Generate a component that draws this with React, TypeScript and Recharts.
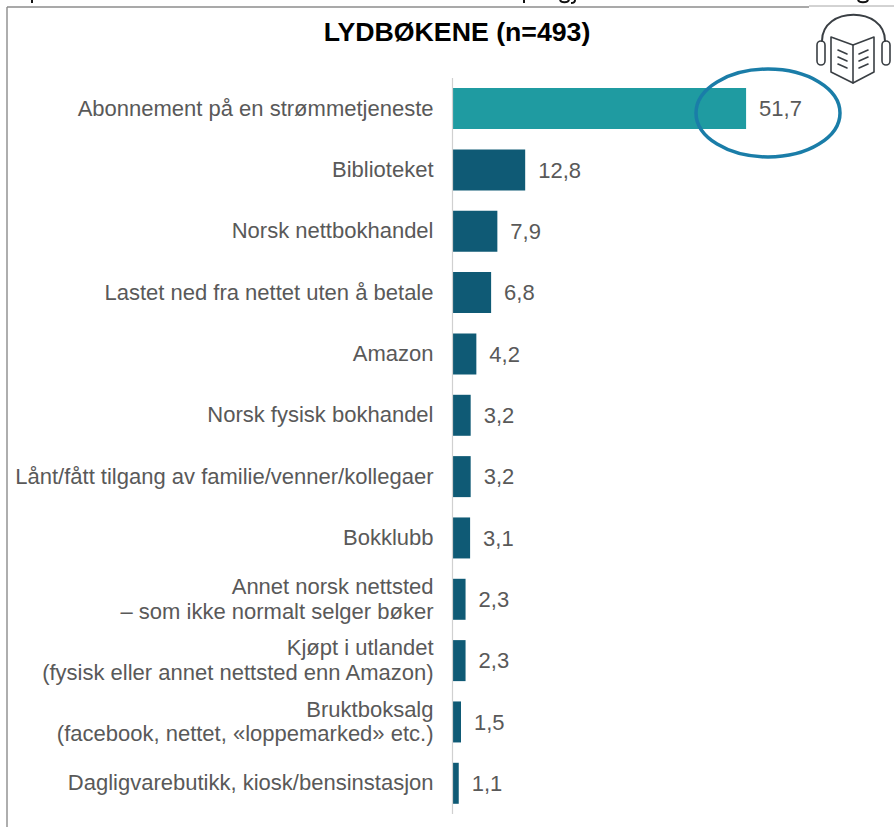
import React from "react";
import { BarChart, Bar, XAxis, YAxis, Cell, LabelList } from "recharts";

const categories = [
  "Abonnement på en strømmetjeneste",
  "Biblioteket",
  "Norsk nettbokhandel",
  "Lastet ned fra nettet uten å betale",
  "Amazon",
  "Norsk fysisk bokhandel",
  "Lånt/fått tilgang av familie/venner/kollegaer",
  "Bokklubb",
  "Annet norsk nettsted\n– som ikke normalt selger bøker",
  "Kjøpt i utlandet\n(fysisk eller annet nettsted enn Amazon)",
  "Bruktboksalg\n(facebook, nettet, «loppemarked» etc.)",
  "Dagligvarebutikk, kiosk/bensinstasjon",
];
const values = [51.7, 12.8, 7.9, 6.8, 4.2, 3.2, 3.2, 3.1, 2.3, 2.3, 1.5, 1.1];
const title = "LYDBØKENE (n=493)";
const data = categories.map((name, i) => ({ name, value: values[i] }));
const FONT = "'Liberation Sans', Arial, sans-serif";

function CategoryTick({ x, y, payload }: any) {
  const lines = String(payload.value).split("\n");
  const lh = 24.5;
  const start = y - ((lines.length - 1) * lh) / 2 + 7;
  return (
    <text textAnchor="end" fontFamily={FONT} fontSize={22} fill="#595959">
      {lines.map((l, i) => (
        <tspan key={i} x={x} y={start + i * lh}>{l}</tspan>
      ))}
    </text>
  );
}

function Overlay() {
  return (
    <svg width={894} height={827} style={{ position: "absolute", left: 0, top: 0, pointerEvents: "none" }}>
      <g fill="none" stroke="#111" strokeWidth={2}>
        <path d="M32 0 V3" />
        <path d="M524 0 V3" />
        <path d="M560 0 C561 3 568 3 569 0" />
        <path d="M575 0 C575 3 573 3 571 3" />
        <path d="M858 0 C859 3 867 3 868 0" />
      </g>
      <line x1={7} y1={7} x2={809} y2={7} stroke="#8c8c8c" strokeWidth={1.4} />
      <line x1={809} y1={6} x2={894} y2={6} stroke="#a6a6a6" strokeWidth={1} />
      <line x1={7} y1={7} x2={7} y2={827} stroke="#8c8c8c" strokeWidth={1.4} />
      <text x={457} y={41} textAnchor="middle" fontFamily={FONT} fontSize={26.7} fontWeight={700} fill="#000">{title}</text>
      <ellipse cx={768} cy={113} rx={72} ry={44} fill="none" stroke="#1a7da8" strokeWidth={3.5} />
      <g fill="none" stroke="#3a3f44" strokeWidth={1.6} strokeLinejoin="round" strokeLinecap="round">
        <path d="M822 41 C822 6 885 6 885 41" strokeWidth={2} />
        <rect x={817} y={41} width={8} height={24} rx={4} />
        <rect x={882} y={41} width={8} height={24} rx={4} />
        <path d="M831 37 L853 45 L874 37 L874 72 L853 83 L831 72 Z" />
        <path d="M853 45 L853 83" />
        <path d="M838 50 L847 54 M838 57 L847 61 M838 64 L847 68 M859 54 L868 50 M859 61 L868 57 M859 68 L868 64" />
      </g>
    </svg>
  );
}

export default function App() {
  return (
    <div style={{ position: "absolute", left: 0, top: 0, width: 894, height: 827, overflow: "hidden" }}>
      <BarChart
        width={894}
        height={827}
        data={data}
        layout="vertical"
        barCategoryGap="16.5%"
        margin={{ top: 78, right: 44, bottom: 13, left: 0 }}
      >
        <XAxis type="number" domain={[0, 70]} hide />
        <YAxis
          type="category"
          dataKey="name"
          width={452.5}
          interval={0}
          axisLine={{ stroke: "#d0d0d0", strokeWidth: 1.2 }}
          tickLine={false}
          tickMargin={13}
          tick={<CategoryTick />}
        />
        <Bar dataKey="value" isAnimationActive={false} fill="#0f5a75">
          {data.map((d, i) => (
            <Cell key={d.name} fill={i === 0 ? "#1f9ba1" : "#0f5a75"} />
          ))}
          <LabelList
            dataKey="value"
            position="right"
            offset={13}
            formatter={(v: any) => String(v).replace(".", ",")}
            style={{ fontFamily: FONT, fontSize: 22, fill: "#595959" }}
          />
        </Bar>
      </BarChart>
      <Overlay />
    </div>
  );
}
